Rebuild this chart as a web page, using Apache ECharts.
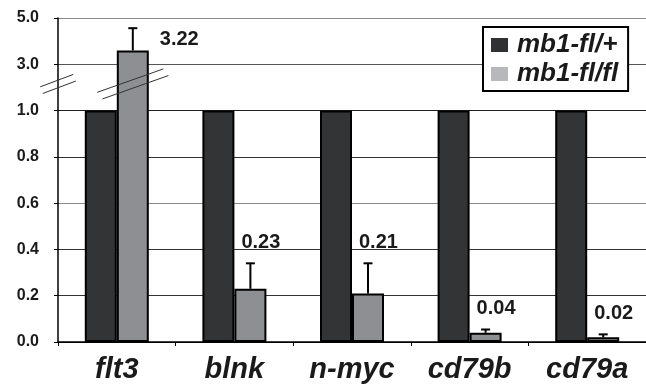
<!DOCTYPE html>
<html><head><meta charset="utf-8">
<script src="https://cdn.jsdelivr.net/npm/echarts@6/dist/echarts.min.js"></script>
<style>html,body{margin:0;padding:0;background:#fff}#c{width:646px;height:388px}</style>
</head><body><div id="c"></div>
<script>
const categories = ['flt3', 'blnk', 'n-myc', 'cd79b', 'cd79a'];
const seriesNames = ['mb1-fl/+', 'mb1-fl/fl'];
const wtValues = [1.0, 1.0, 1.0, 1.0, 1.0];
const mutValues = [3.6, 0.23, 0.21, 0.04, 0.02];
const mutErrors = [0.96, 0.11, 0.13, 0.014, 0.013];
const mutLabels = ['3.22', '0.23', '0.21', '0.04', '0.02'];
const yTickLabels = [0.0, 0.2, 0.4, 0.6, 0.8, 1.0, 3.0, 5.0];

// broken axis: 0..1 linear, above 1 compressed 10x
function toAxis(v) { return v <= 1 ? v : 1 + (v - 1) / 10; }
const BREAK_LEVEL = 2.15;
const BAR_W = 32;
const FONT = '"Liberation Sans", Arial, Helvetica, sans-serif';

const chart = echarts.init(document.getElementById('c'), null, {renderer: 'canvas'});

const errData = categories.map((c, i) => [i, toAxis(mutValues[i]), toAxis(mutValues[i] + mutErrors[i])]);

function renderErr(params, api) {
  const cat = api.value(0);
  const top = api.coord([cat, api.value(1)]);
  const errTop = api.coord([cat, api.value(2)]);
  const cx = top[0] + BAR_W / 2;
  const ch = [
    {type: 'line', shape: {x1: cx, y1: top[1], x2: cx, y2: errTop[1]}, style: {stroke: '#000', lineWidth: 2}},
    {type: 'line', shape: {x1: cx - 4.5, y1: errTop[1], x2: cx + 4.5, y2: errTop[1]}, style: {stroke: '#000', lineWidth: 2}}
  ];
  const idx = params.dataIndex;
  let lx, ly;
  if (api.value(1) > 1) {
    lx = cx + BAR_W / 2 + 11; ly = errTop[1] + 11;
    const by = api.coord([cat, toAxis(BREAK_LEVEL)])[1];
    const ax = params.coordSys.x;
    const lineStyle = {stroke: '#333', lineWidth: 1};
    // axis break
    [[-1.3, -3.3], [1.3, 3.3]].forEach(o => {
      ch.push({type: 'line', shape: {x1: ax + o[0] - 16.5, y1: by + o[1] + 6.2, x2: ax + o[0] + 16.5, y2: by + o[1] - 6.2}, style: lineStyle});
    });
    // bar break
    [[-2.6, -3.3], [2.6, 3.3]].forEach(o => {
      ch.push({type: 'line', shape: {x1: cx + o[0] - 33, y1: by + o[1] + 11.7, x2: cx + o[0] + 33, y2: by + o[1] - 11.7}, style: lineStyle});
    });
  } else {
    lx = cx - BAR_W / 2 + 7; ly = errTop[1] - 21;
  }
  ch.push({type: 'text', x: lx, y: ly, style: {
    text: mutLabels[idx], font: 'bold 20px ' + FONT, fill: '#1a1a1a',
    textAlign: 'left', textVerticalAlign: 'middle', align: 'left', verticalAlign: 'middle'
  }});
  return {type: 'group', children: ch};
}

chart.setOption({
  animation: false,
  backgroundColor: '#fff',
  grid: {left: 58, right: -1, top: 18, bottom: 46, containLabel: false},
  legend: {
    orient: 'vertical', left: 483, top: 27,
    padding: [5, 10, 4, 8], itemGap: 3, itemWidth: 17, itemHeight: 14,
    backgroundColor: '#fff', borderColor: '#000', borderWidth: 2, borderRadius: 0,
    icon: 'rect',
    textStyle: {fontFamily: FONT, fontSize: 26, fontWeight: 'bold', fontStyle: 'italic', color: '#1a1a1a', padding: [0, 0, 0, 4]},
    data: [
      {name: seriesNames[0], itemStyle: {color: '#303133', borderWidth: 0}},
      {name: seriesNames[1], itemStyle: {color: '#b6b8bb', borderWidth: 0}}
    ]
  },
  xAxis: {
    type: 'category', data: categories,
    axisLine: {lineStyle: {color: '#000', width: 1.5}},
    axisTick: {show: true, length: 4, lineStyle: {color: '#000'}},
    axisLabel: {fontFamily: FONT, fontSize: 29, fontWeight: 'bold', fontStyle: 'italic', color: '#1a1a1a', margin: 13},
    splitLine: {show: false}
  },
  yAxis: {
    type: 'value', min: 0, max: 1.4, interval: 0.2,
    axisLine: {show: true, lineStyle: {color: '#000', width: 1.5}},
    axisTick: {show: true, length: 4, lineStyle: {color: '#000'}},
    axisLabel: {
      fontFamily: FONT, fontSize: 16, fontWeight: 'bold', color: '#1a1a1a', margin: 19,
      formatter: v => yTickLabels[Math.round(v / 0.2)].toFixed(1)
    },
    splitLine: {show: true, lineStyle: {color: ['#000', '#333', '#333', '#8a8a8a', '#333', '#222', '#555', '#8a8a8a'], width: 1}}
  },
  series: [
    {type: 'bar', name: seriesNames[0], data: wtValues.map(toAxis), barWidth: BAR_W, barGap: '0%',
     itemStyle: {color: '#333436', borderColor: '#000', borderWidth: 2}},
    {type: 'bar', name: seriesNames[1], data: mutValues.map(toAxis), barWidth: BAR_W, barGap: '0%',
     itemStyle: {color: '#8d8f93', borderColor: '#000', borderWidth: 2}},
    {type: 'custom', name: 'err', data: errData, encode: {x: 0, y: [1, 2]}, z: 10,
     renderItem: renderErr}
  ]
});
</script>
</body></html>
